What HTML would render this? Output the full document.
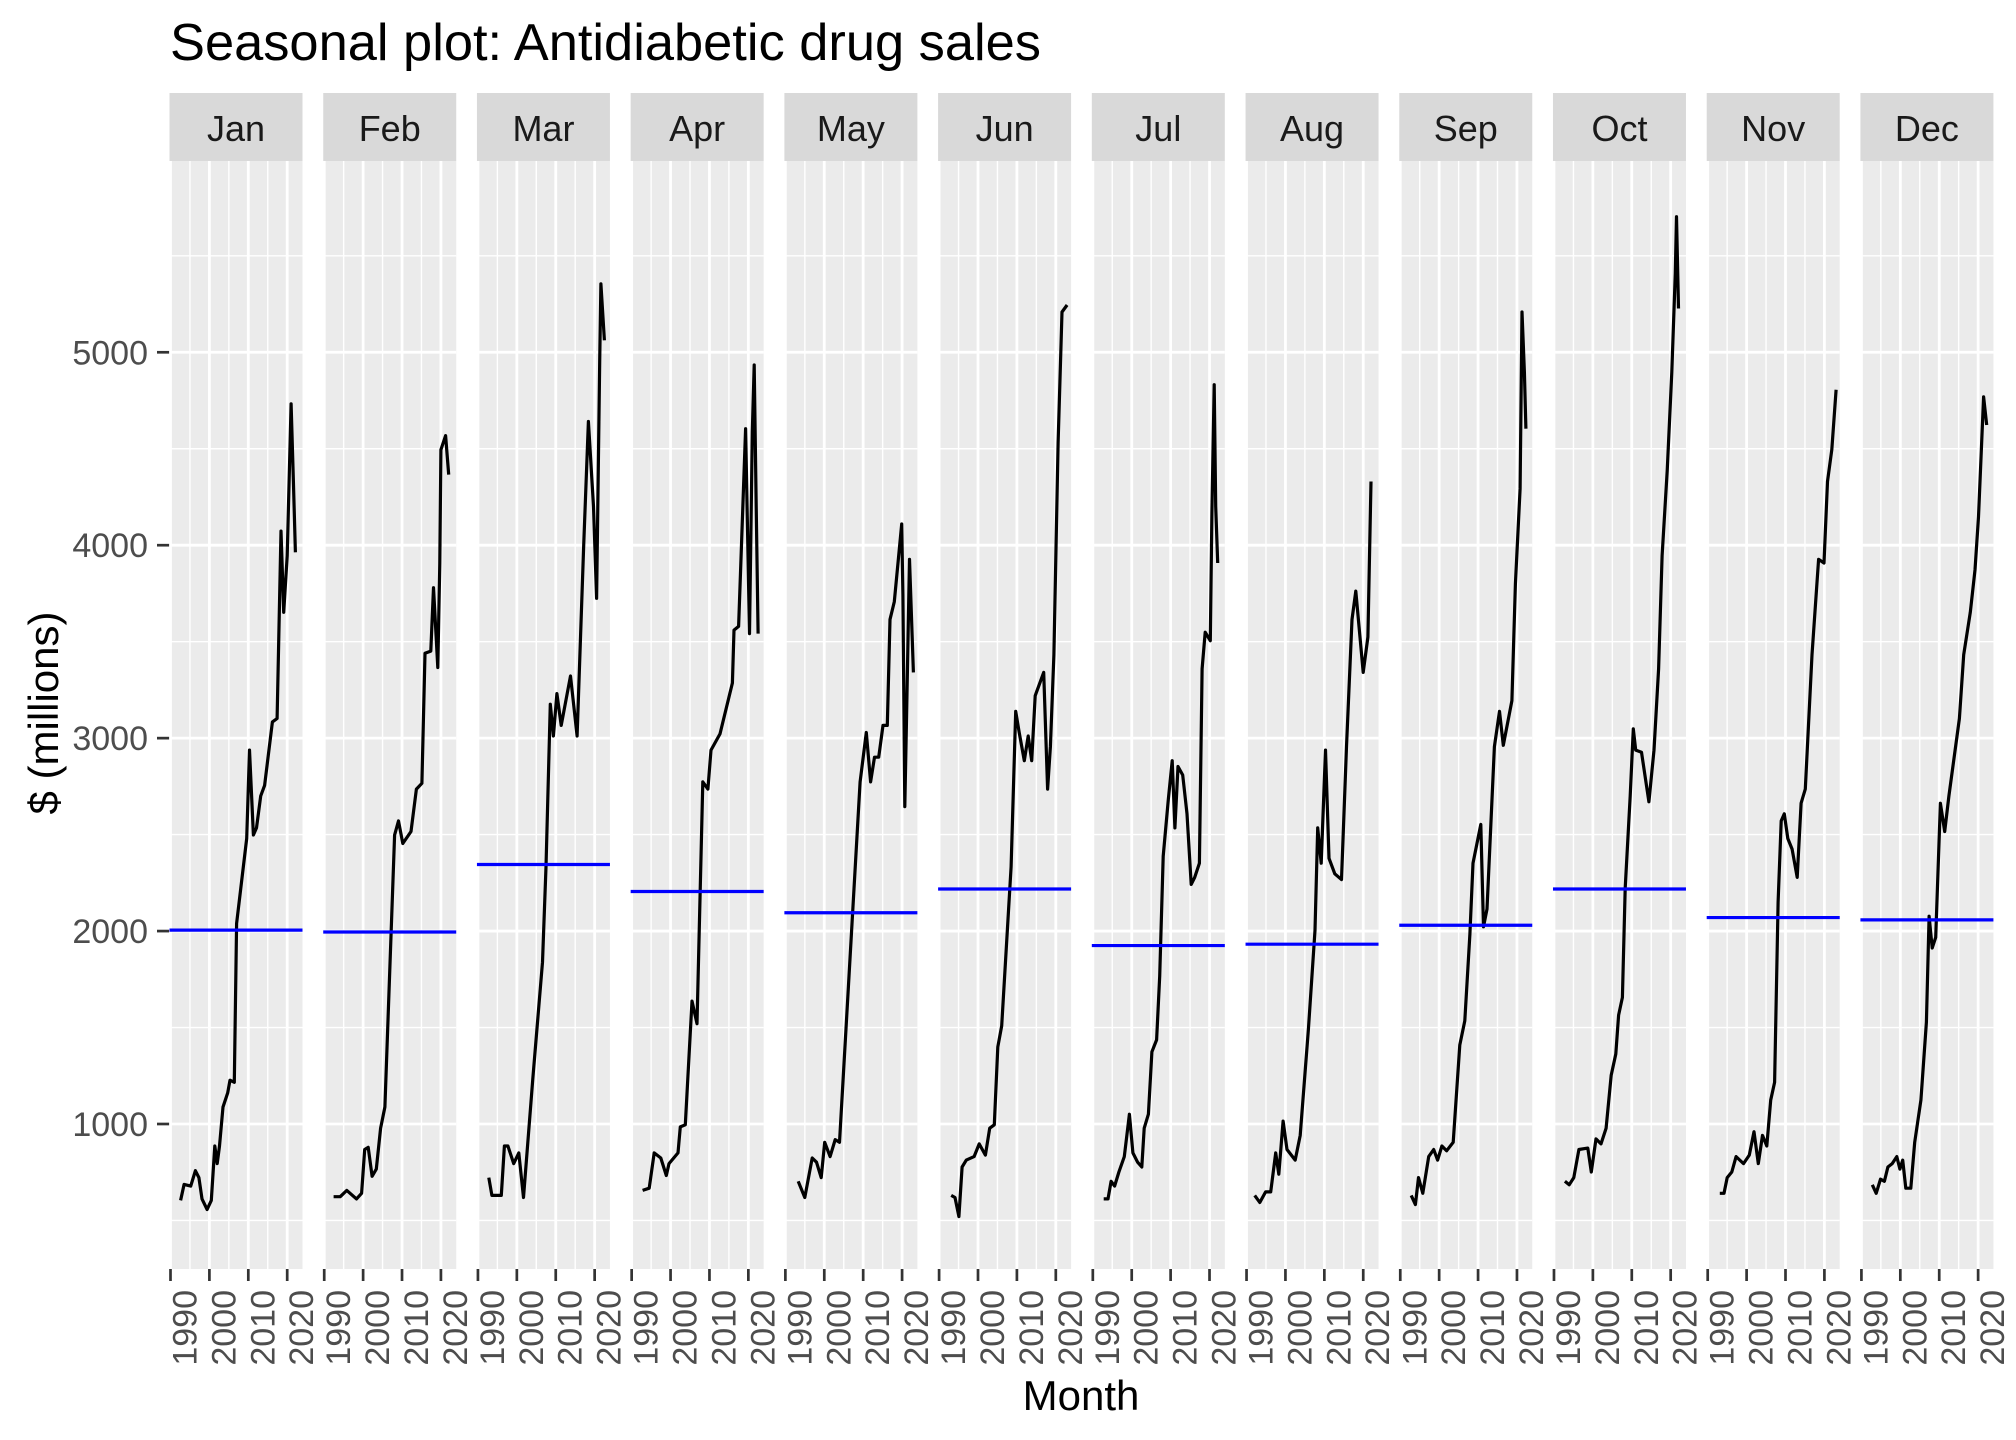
<!DOCTYPE html>
<html><head><meta charset="utf-8"><style>
html,body{margin:0;padding:0;background:#fff;}
svg{display:block;font-family:"Liberation Sans",Arial,sans-serif;}
</style></head><body>
<svg id="chart" width="2016" height="1440" viewBox="0 0 2016 1440" xmlns="http://www.w3.org/2000/svg">
<text x="170" y="60" font-size="52" fill="#000" textLength="871" lengthAdjust="spacingAndGlyphs">Seasonal plot: Antidiabetic drug sales</text>
<text transform="translate(58,713) rotate(-90)" text-anchor="middle" font-size="42" fill="#000">$ (millions)</text>
<text x="1081" y="1410" text-anchor="middle" font-size="42" fill="#000">Month</text>
<g id="panels"></g>
</svg>
<script>
const months = ["Jan","Feb","Mar","Apr","May","Jun","Jul","Aug","Sep","Oct","Nov","Dec"];
const monthMeans = [2005,1995,2345,2205,2095,2218,1925,1932,2030,2218,2070,2058];
const yTicks = [1000,2000,3000,4000,5000];
const yMinor = [500,1500,2500,3500,4500,5500];
const xTicks = [1990,2000,2010,2020];
const xMinor = [1995,2005,2015];

const janYears = [1992.6,1993.5,1995.2,1996.4,1997.3,1998.1,1999.4,2000.5,2001.4,2002,2002.6,2003.5,2004.7,2005.3,2006.4,2007,2009.6,2010.3,2011.3,2012.1,2013.2,2014.2,2016.2,2017.4,2018.4,2019.1,2020,2021,2021.6,2022.1];
const janValues = [604,687,678,758,722,612,557,604,886,795,886,1088,1161,1227,1216,2040,2480,2938,2498,2535,2700,2755,3084,3102,4073,3652,3945,4733,4330,3963];
const febYears = [1992.4,1994.1,1995.8,1998.3,1999.6,2000.4,2001.3,2002.3,2003.4,2004.5,2005.6,2008.1,2009.1,2010.2,2012.3,2013.7,2015.1,2015.9,2017.4,2018.1,2019.2,2019.7,2020,2021.2,2022];
const febValues = [623,623,656,612,641,868,879,729,766,978,1088,2498,2571,2454,2516,2736,2766,3440,3451,3780,3366,3908,4495,4568,4366];
const marYears = [1992.8,1993.6,1996,1996.8,1997.7,1999.2,2000.5,2001.7,2004.1,2006.6,2007.5,2008.6,2009.4,2010.3,2011.4,2013.8,2015.5,2017.2,2018.4,2019.7,2020.5,2021.3,2021.6,2022.5];
const marValues = [722,630,630,886,886,795,850,619,1234,1839,2333,3176,3011,3231,3066,3322,3011,4000,4641,4201,3725,4952,5355,5062];
const aprYears = [1992.8,1994.5,1995.8,1997.5,1998.9,1999.6,2001.9,2002.5,2003.8,2005.5,2006.8,2008.3,2009.6,2010.4,2012.7,2015.9,2016.3,2017.5,2019.3,2020.3,2021,2021.5,2022,2022.5];
const aprValues = [656,667,850,824,733,795,850,985,996,1637,1520,2773,2736,2938,3022,3286,3560,3579,4604,3542,4586,4934,4238,3542];
const mayYears = [1993.3,1995,1996.9,1998,1999.2,2000.1,2001.5,2002.8,2003.9,2006.2,2009.2,2010.8,2011.9,2012.9,2014,2015.1,2016.2,2016.9,2018,2019.9,2020.2,2020.7,2021.1,2021.9,2022.9];
const mayValues = [703,619,824,802,722,905,831,919,905,1711,2773,3029,2773,2901,2901,3066,3066,3615,3707,4110,3744,2645,3066,3927,3341];
const junYears = [1993.1,1994.1,1995.1,1995.9,1997,1999,2000.3,2001.9,2003,2004.2,2005.1,2006.1,2008.5,2009.7,2010.6,2011.9,2012.9,2013.8,2014.7,2016.9,2017.9,2018.6,2019.5,2020.6,2021.6,2022.9];
const junValues = [630,619,520,777,813,831,897,839,978,996,1399,1509,2333,3139,3029,2883,3011,2883,3220,3341,2736,2956,3432,4531,5209,5245];
const julYears = [1992.8,1993.9,1994.7,1995.6,1996.7,1998.1,1999.4,2000.3,2001.5,2002.6,2003.2,2004.3,2005.2,2006.4,2007.2,2008.1,2009.4,2010.4,2011.1,2011.9,2013.1,2014.2,2015.3,2016.2,2017.4,2018.1,2018.9,2020.2,2020.6,2021.2,2021.6,2022.1];
const julValues = [612,612,703,678,751,831,1051,850,802,777,978,1051,1374,1436,1766,2388,2681,2883,2535,2853,2809,2608,2242,2278,2352,3359,3549,3505,4165,4832,4201,3908];
const augYears = [1992.1,1993.4,1994.9,1996.2,1997.5,1998.3,1999.4,2000.4,2002.5,2003.8,2005.9,2007.6,2008.3,2009.2,2010.3,2011.2,2012.7,2014.4,2015.7,2017.1,2018.1,2020,2021.2,2022];
const augValues = [630,593,648,648,850,740,1015,868,813,941,1491,2004,2535,2352,2938,2377,2297,2267,2956,3615,3762,3341,3524,4330];
const sepYears = [1992.8,1993.9,1994.7,1995.8,1997.3,1998.6,1999.6,2000.7,2001.9,2003.6,2005.3,2006.6,2007.9,2008.7,2010.7,2011.4,2012.3,2014.2,2015.5,2016.5,2018.7,2019.6,2020.8,2021.3,2021.9,2022.3];
const sepValues = [630,582,722,641,831,868,813,886,861,905,1410,1535,1985,2352,2553,2022,2114,2956,3139,2963,3194,3799,4293,5209,4897,4604];
const octYears = [1992.8,1993.9,1995.1,1996.4,1998.7,1999.6,2000.8,2002.1,2003.4,2004.7,2005.9,2006.6,2007.6,2008.3,2009.6,2010.4,2011,2012.5,2014.4,2015.7,2016.9,2017.8,2019.1,2020.3,2021.2,2021.5,2022];
const octValues = [703,685,722,868,875,751,923,897,978,1253,1363,1564,1656,2223,2700,3048,2938,2927,2670,2938,3359,3945,4385,4897,5410,5703,5227];
const novYears = [1993.1,1994.2,1995,1996.2,1997.3,1999.2,2000.7,2001.9,2003,2004.1,2005.2,2006.2,2007.2,2008.1,2008.9,2009.7,2010.6,2011.7,2013,2014,2015.1,2016.8,2018.5,2019.9,2020.8,2021.9,2023];
const novValues = [641,641,722,751,831,795,839,960,795,941,886,1124,1216,2150,2571,2608,2480,2425,2278,2663,2736,3432,3927,3908,4330,4495,4806];
const decYears = [1992.8,1993.8,1994.9,1995.9,1996.8,1997.9,1999.1,1999.9,2000.6,2001.4,2002.7,2003.7,2005.3,2006.7,2007.4,2008.2,2009.1,2010.3,2011.4,2012.5,2015.2,2016.3,2018,2019.2,2020.1,2021.4,2022.2];
const decValues = [685,641,714,703,777,795,831,766,813,667,667,905,1124,1527,2077,1912,1967,2663,2516,2700,3102,3432,3652,3872,4147,4769,4623];

const seriesYears = [janYears,febYears,marYears,aprYears,mayYears,junYears,julYears,augYears,sepYears,octYears,novYears,decYears];
const seriesValues = [janValues,febValues,marValues,aprValues,mayValues,junValues,julValues,augValues,sepValues,octValues,novValues,decValues];

const NS = "http://www.w3.org/2000/svg";
const PANEL_TOP = 161, PANEL_BOTTOM = 1269, PANEL_W = 133, PANEL_STEP = 153.72, PANEL_LEFT0 = 169.5;
const STRIP_TOP = 93;
function yScale(v){ return 1124 - (v - 1000) * 0.19293; }
function xScale(i, yr){ return PANEL_LEFT0 + i * PANEL_STEP + 1 + (yr - 1990) * 3.89; }
function mk(tag, attrs, parent){ const e = document.createElementNS(NS, tag); for (const k in attrs) e.setAttribute(k, attrs[k]); parent.appendChild(e); return e; }

const root = document.getElementById("panels");

yTicks.forEach(v => {
  const y = yScale(v);
  const t = mk("line", {x1:157, x2:169.5, y1:y, y2:y, stroke:"#333", "stroke-width":2.7}, root);
  
  
  const lb = mk("text", {x:148, y:y + 12, "text-anchor":"end", "font-size":34, fill:"#4D4D4D"}, root);
  lb.textContent = String(v);
  
  
});

months.forEach((m, i) => {
  const left = PANEL_LEFT0 + i * PANEL_STEP;
  const g = mk("g", {}, root);
  
  
  const bg = mk("rect", {x:left, y:PANEL_TOP, width:PANEL_W, height:PANEL_BOTTOM - PANEL_TOP, fill:"#EBEBEB"}, g);
  
  
  const strip = mk("rect", {x:left, y:STRIP_TOP, width:PANEL_W, height:PANEL_TOP - STRIP_TOP, fill:"#D9D9D9"}, g);
  
  
  const st = mk("text", {x:left + PANEL_W / 2, y:141, "text-anchor":"middle", "font-size":36, fill:"#1A1A1A"}, g);
  st.textContent = m;
  
  
  yMinor.forEach(v => {
    const y = yScale(v);
    const l = mk("line", {x1:left, x2:left + PANEL_W, y1:y, y2:y, stroke:"#fff", "stroke-width":1.4}, g);
    
    
  });
  xMinor.forEach(yr => {
    const x = xScale(i, yr);
    const l = mk("line", {x1:x, x2:x, y1:PANEL_TOP, y2:PANEL_BOTTOM, stroke:"#fff", "stroke-width":1.4}, g);
    
    
  });
  yTicks.forEach(v => {
    const y = yScale(v);
    const l = mk("line", {x1:left, x2:left + PANEL_W, y1:y, y2:y, stroke:"#fff", "stroke-width":2.8}, g);
    
    
  });
  xTicks.forEach(yr => {
    const x = xScale(i, yr);
    const l = mk("line", {x1:x, x2:x, y1:PANEL_TOP, y2:PANEL_BOTTOM, stroke:"#fff", "stroke-width":2.8}, g);
    
    
    const t = mk("line", {x1:x, x2:x, y1:PANEL_BOTTOM, y2:PANEL_BOTTOM + 12, stroke:"#333", "stroke-width":2.7}, g);
    
    
    const lb = mk("text", {transform:"translate(" + (x + 26) + "," + (PANEL_BOTTOM + 21) + ") rotate(-90)", "text-anchor":"end", "font-size":34, fill:"#4D4D4D"}, g);
    lb.textContent = String(yr);
    
    
  });
  const yrs = seriesYears[i], vals = seriesValues[i];
  const pts = yrs.map((yr, k) => xScale(i, yr).toFixed(1) + "," + yScale(vals[k]).toFixed(1)).join(" ");
  const line = mk("polyline", {points:pts, fill:"none", stroke:"#000", "stroke-width":3.2, "stroke-linejoin":"round"}, g);
  
  
  const my = yScale(monthMeans[i]);
  const mean = mk("line", {x1:left, x2:left + PANEL_W, y1:my, y2:my, stroke:"#0000FF", "stroke-width":3.2}, g);
  
  
});
</script>
</body></html>
